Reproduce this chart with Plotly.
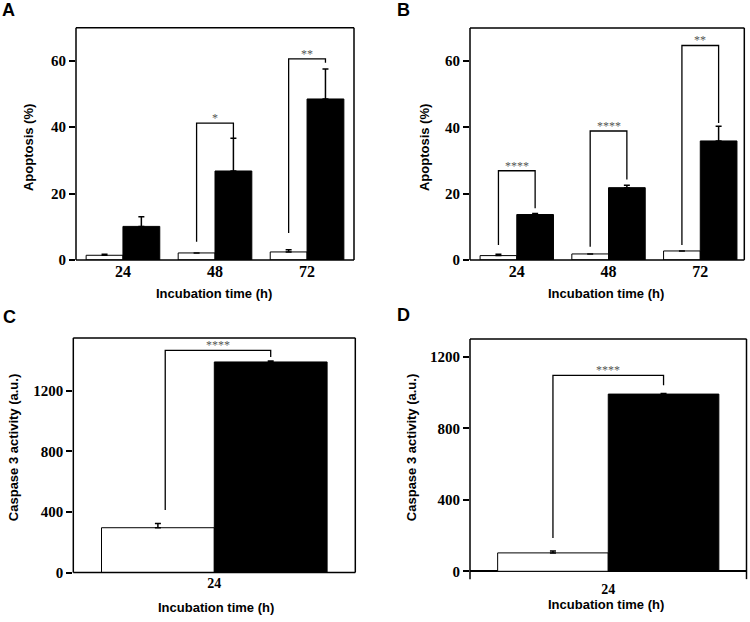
import plotly.graph_objects as go

W, H = 750, 622

# Panel A - apoptosis, time course
a_time = ['24', '48', '72']
a_ctrl = [1.4, 2.1, 2.4]
a_ctrl_err = [0.3, 0.0, 0.7]
a_treat = [10.1, 26.8, 48.5]
a_treat_err = [2.9, 9.9, 9.0]
a_br_low = [None, 5.5, 8.1]
a_br_top = [None, 41.2, 60.6]
a_br_right = [None, 36.7, 59.4]
a_stars = ['', '*', '**']

# Panel B - apoptosis, time course
b_time = ['24', '48', '72']
b_ctrl = [1.3, 1.8, 2.7]
b_ctrl_err = [0.4, 0.0, 0.0]
b_treat = [13.7, 21.8, 35.9]
b_treat_err = [0.3, 0.7, 4.4]
b_br_low = [4.5, 4.0, 4.5]
b_br_top = [26.9, 38.9, 64.7]
b_br_right = [15.6, 24.3, 41.3]
b_stars = ['****', '****', '**']

# Panel C - caspase 3
c_time = ['24']
c_ctrl = [296]
c_ctrl_err = [28]
c_treat = [1391]
c_treat_err = [6]
c_br_low = [413]
c_br_top = [1467]
c_br_right = [1424]
c_stars = ['****']

# Panel D - caspase 3
d_time = ['24']
d_ctrl = [103]
d_ctrl_err = [11]
d_treat = [992]
d_treat_err = [3]
d_br_low = [186]
d_br_top = [1097]
d_br_right = [1042]
d_stars = ['****']

tick_font = dict(family='Liberation Serif, Times New Roman, serif', size=16,
                 color='black', weight='bold')
title_font = dict(family='Liberation Sans, Arial, sans-serif', size=13,
                  color='black', weight='bold')
frame = dict(color='black', width=1.5)


def px(x, y):
    # pixel position -> paper coords
    return x / W, 1 - y / H


fig = go.Figure()
annotations = []
shapes = []


def panel(n, letter, times, ctrl, ctrl_err, treat, treat_err, br_low, br_top, br_right,
          stars, box, yrange, yticks, ytitle, ytitle_pos, xtitle_pos, letter_pos,
          xrange, xtick_size=16, left_dx=0.0, open_bottom=False):
    xa = 'x' if n == 1 else 'x%d' % n
    ya = 'y' if n == 1 else 'y%d' % n
    xs = list(range(len(times)))
    for vals, errs, col in [(ctrl, ctrl_err, 'white'), (treat, treat_err, 'black')]:
        fig.add_trace(go.Bar(
            x=xs, y=vals, xaxis=xa, yaxis=ya, showlegend=False,
            marker=dict(color=col, line=dict(color='black', width=1)),
            error_y=dict(type='data', array=errs, arrayminus=[0] * len(errs),
                         symmetric=False, color='black', thickness=1.5, width=3)))
    # significance brackets
    bx, by = [], []
    for i in xs:
        if br_low[i] is None:
            continue
        x0 = i - 0.2 + left_dx
        x1 = i + 0.2
        bx += [x0, x0, x1, x1, None]
        by += [br_low[i], br_top[i], br_top[i], br_right[i], None]
        annotations.append(dict(x=(x0 + x1) / 2, y=br_top[i], xref=xa, yref=ya,
                                text=stars[i], showarrow=False, xanchor='center',
                                yanchor='bottom', yshift=-4,
                                font=dict(family='Liberation Serif', size=12, color='#555')))
    fig.add_trace(go.Scatter(x=bx, y=by, xaxis=xa, yaxis=ya, mode='lines',
                             line=dict(color='black', width=1.3), showlegend=False,
                             hoverinfo='skip'))

    x0, y1 = px(box[0], box[1])
    x1, y0 = px(box[2], box[3])
    key = '' if n == 1 else str(n)
    fig.layout['xaxis' + key] = dict(
        domain=[x0, x1], anchor=ya, range=xrange, tickvals=xs, ticktext=times,
        ticks='', tickfont=dict(tick_font, size=xtick_size), showgrid=False,
        zeroline=False, showline=False)
    fig.layout['yaxis' + key] = dict(
        domain=[y0, y1], anchor=xa, range=yrange, tickvals=yticks,
        ticks='outside', ticklen=6, tickwidth=1.5, tickcolor='black',
        tickfont=dict(tick_font, size=15), showgrid=False,
        zeroline=open_bottom, zerolinecolor='black', zerolinewidth=1.5,
        showline=False)
    # frame: left, right, top always; bottom only for closed panels
    shapes.append(dict(type='line', xref='paper', yref='paper', x0=x0, x1=x0,
                       y0=y0, y1=y1, line=frame))
    shapes.append(dict(type='line', xref='paper', yref='paper', x0=x1, x1=x1,
                       y0=y0, y1=y1, line=frame))
    shapes.append(dict(type='line', xref='paper', yref='paper', x0=x0, x1=x1,
                       y0=y1, y1=y1, line=frame))
    if not open_bottom:
        shapes.append(dict(type='line', xref='paper', yref='paper', x0=x0, x1=x1,
                           y0=y0, y1=y0, line=frame))

    tx, ty = px(*ytitle_pos)
    annotations.append(dict(x=tx, y=ty, xref='paper', yref='paper', text=ytitle,
                            textangle=-90, showarrow=False, xanchor='center',
                            yanchor='middle', font=title_font))
    tx, ty = px(*xtitle_pos)
    annotations.append(dict(x=tx, y=ty, xref='paper', yref='paper',
                            text='Incubation time (h)', showarrow=False,
                            xanchor='center', yanchor='middle', font=title_font))
    tx, ty = px(*letter_pos)
    annotations.append(dict(x=tx, y=ty, xref='paper', yref='paper', text=letter,
                            showarrow=False, xanchor='left', yanchor='middle',
                            font=dict(family='Liberation Sans, Arial, sans-serif', size=18,
                                      color='black', weight='bold')))


panel(1, 'A', a_time, a_ctrl, a_ctrl_err, a_treat, a_treat_err, a_br_low, a_br_top,
      a_br_right, a_stars, box=(76, 28, 354, 263.3), yrange=[0, 70],
      yticks=[0, 20, 40, 60], ytitle='Apoptosis (%)', ytitle_pos=(28, 150),
      xtitle_pos=(214, 297), letter_pos=(0, 10), xrange=[-0.51, 2.51])
panel(2, 'B', b_time, b_ctrl, b_ctrl_err, b_treat, b_treat_err, b_br_low, b_br_top,
      b_br_right, b_stars, box=(470, 28.3, 744.3, 263.3), yrange=[0, 70],
      yticks=[0, 20, 40, 60], ytitle='Apoptosis (%)', ytitle_pos=(424, 150),
      xtitle_pos=(606, 297), letter_pos=(395, 10), xrange=[-0.51, 2.48])
panel(3, 'C', c_time, c_ctrl, c_ctrl_err, c_treat, c_treat_err, c_br_low, c_br_top,
      c_br_right, c_stars, box=(73.3, 342.3, 355.3, 580), yrange=[0, 1550],
      yticks=[0, 400, 800, 1200], ytitle='Caspase 3 activity (a.u.)',
      ytitle_pos=(13, 454), xtitle_pos=(216, 615), letter_pos=(1, 321),
      xrange=[-0.5, 0.5], xtick_size=14, left_dx=0.026)
panel(4, 'D', d_time, d_ctrl, d_ctrl_err, d_treat, d_treat_err, d_br_low, d_br_top,
      d_br_right, d_stars, box=(470, 343.3, 746.5, 586.7), yrange=[-44, 1301],
      yticks=[0, 400, 800, 1200], ytitle='Caspase 3 activity (a.u.)',
      ytitle_pos=(411, 454), xtitle_pos=(606, 612), letter_pos=(395, 319),
      xrange=[-0.5, 0.5], xtick_size=14, open_bottom=True)

fig.update_layout(
    width=W, height=H, autosize=False, margin=dict(l=0, r=0, t=0, b=0),
    paper_bgcolor='white', plot_bgcolor='white',
    barmode='group', bargap=0.2, bargroupgap=0,
    annotations=annotations, shapes=shapes)

# pin the figure to the window corner so page margins cannot shift it
page_fix = ("document.body.style.margin='0';"
            "document.body.style.overflow='hidden';"
            "var gd=document.getElementById('{plot_id}');"
            "gd.style.position='fixed';gd.style.left='0';gd.style.top='0';")
fig.write_html('out.html', config={'displayModeBar': False}, post_script=page_fix)
